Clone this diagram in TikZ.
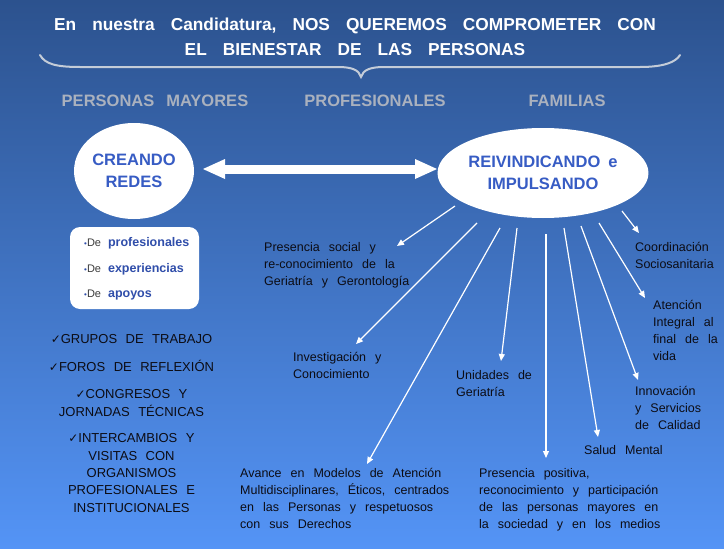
\documentclass[tikz,border=0pt]{standalone}
\usepackage{fontspec}
\setmainfont{Liberation Sans}
\newfontfamily\symfont{DejaVu Sans}
\usetikzlibrary{arrows.meta,shapes.geometric,calc}
\definecolor{bgtop}{RGB}{44,82,142}
\definecolor{bgbot}{RGB}{84,148,246}
\definecolor{ellblue}{RGB}{55,92,196}
\definecolor{boxblue}{RGB}{48,78,170}
\definecolor{subgray}{RGB}{170,177,190}
\definecolor{bracecol}{RGB}{196,204,216}
\definecolor{dkgray}{RGB}{60,60,60}
\definecolor{txtblack}{RGB}{12,12,20}
\newcommand{\boxitem}[1]{{\color{boxblue}\fontsize{8}{25.5}\selectfont •}{\color{dkgray}\fontsize{11}{25.5}\selectfont De}\hspace{7pt}\textcolor{boxblue}{\bfseries #1}}
\newcommand{\chk}{{\symfont\fontsize{12}{17.3}\selectfont ✓}}
\begin{document}
\begin{tikzpicture}[x=1pt,y=-1pt,
  titletext/.style={text=white, align=center, inner sep=0pt, anchor=north,
    font={\bfseries\fontsize{17.3}{24.3}\selectfont\spaceskip=16pt plus 2pt minus 2pt\relax}},
  subhead/.style={text=subgray, inner sep=0pt, anchor=base,
    font={\bfseries\fontsize{16.5}{20}\selectfont\spaceskip=12pt plus 2pt minus 2pt\relax}},
  bubble/.style={ellipse, fill=white, inner sep=0pt, text=ellblue, align=center,
    font={\bfseries\fontsize{16.5}{21.5}\selectfont\spaceskip=8pt plus 2pt minus 1pt\relax}},
  panel/.style={rectangle, rounded corners=10pt, fill=white, inner sep=0pt,
    minimum width=129pt, minimum height=82pt},
  chklist/.style={text=txtblack, align=center, inner sep=0pt, anchor=north,
    font={\fontsize{13}{17.3}\selectfont\spaceskip=8.5pt plus 2pt minus 1pt\relax}},
  body/.style={text=txtblack, align=left, inner sep=0pt, anchor=north west,
    font={\fontsize{12.5}{17}\selectfont\spaceskip=9pt plus 2pt minus 1pt\relax}},
  conn/.style={white, line width=1.2pt, -{Triangle[length=7pt,width=6pt]}},
  bigarrow/.style={white, line width=9pt,
    {Triangle[length=22pt,width=20pt,line width=0pt]}-{Triangle[length=22pt,width=20pt,line width=0pt]}}
]
\useasboundingbox (0,0) rectangle (724,549);
\shade[top color=bgtop, bottom color=bgbot] (0,0) rectangle (724,549);

% title and brace
\node[titletext] (title) at (355,13.7) {\strut En nuestra Candidatura, NOS QUEREMOS COMPROMETER CON\\EL BIENESTAR DE LAS PERSONAS};
\draw[bracecol, line width=2pt, line cap=round]
  (40,55) .. controls (45,64) and (56,67) .. (80,67) -- (338,67)
  .. controls (352,67) and (359,70) .. (361,77)
  .. controls (363,70) and (370,67) .. (384,67) -- (640,67)
  .. controls (664,67) and (676,62) .. (680,55);

% subheaders
\node[subhead] (mayores) at (155,106) {PERSONAS MAYORES};
\node[subhead] (prof) at (375,106) {PROFESIONALES};
\node[subhead] (fam) at (567,106) {FAMILIAS};

% ellipses
\node[bubble, minimum width=120pt, minimum height=96pt] (creando) at (134,171) {CREANDO\\REDES};
\node[bubble, minimum width=207pt, minimum height=90pt] (reiv) at (543,173) {REIVINDICANDO e\\IMPULSANDO};
\draw[bigarrow] ($(creando.center)+(69,-2)$) -- ($(reiv.center)+(-106,-4)$);

% white panel
\node[panel] (panel) at (134.5,268) {};
\node[inner sep=0pt, anchor=north west, align=left, font={\fontsize{12.5}{25.5}\selectfont}] (redes) at (84,228.6)
  {\strut\boxitem{profesionales}\\\boxitem{experiencias}\\\boxitem{apoyos}};

% checklist
\node[chklist] (g1) at (131.5,331.5) {\strut\chk GRUPOS DE TRABAJO};
\node[chklist] (g2) at (131.5,359.5) {\strut\chk FOROS DE REFLEXIÓN};
\node[chklist] (g3) at (131.5,386.5) {\strut\chk CONGRESOS Y\\JORNADAS TÉCNICAS};
\node[chklist] (g4) at (131.5,430.5) {\strut\chk INTERCAMBIOS Y\\VISITAS CON\\ORGANISMOS\\PROFESIONALES E\\INSTITUCIONALES};

% right text blocks
\node[body] (soc) at (264,239.6) {\strut Presencia social y\\re-conocimiento de la\\Geriatría y Gerontología};
\node[body] (inv) at (293,349.6) {\strut Investigación y\\Conocimiento};
\node[body] (uni) at (456,367.6) {\strut Unidades de\\Geriatría};
\node[body] (ava) at (240,465.6) {\strut Avance en Modelos de Atención\\Multidisciplinares, Éticos, centrados\\en las Personas y respetuosos\\con sus Derechos};
\node[body] (pre) at (479,465.6) {\strut Presencia positiva,\\reconocimiento y participación\\de las personas mayores en\\la sociedad y en los medios};
\node[body] (sal) at (584,442.6) {\strut Salud Mental};
\node[body] (inn) at (635,383.6) {\strut Innovación\\y Servicios\\de Calidad};
\node[body] (ate) at (653,297.6) {\strut Atención\\Integral al\\final de la\\vida};
\node[body] (coo) at (635,239.6) {\strut Coordinación\\Sociosanitaria};

% arrow targets
\coordinate (t1) at (397,246);
\coordinate (t2) at (356,344);
\coordinate (t3) at (367,464);
\coordinate (t4) at (501,361);
\coordinate (t5) at (546,458);
\coordinate (t6) at (598,437);
\coordinate (t7) at (638,380);
\coordinate (t8) at (645,298);
\coordinate (t9) at (639,233);

\draw[conn] ($(reiv.center)+(-88,33)$) -- (t1);
\draw[conn] ($(reiv.center)+(-66,50)$) -- (t2);
\draw[conn] ($(reiv.center)+(-43,55)$) -- (t3);
\draw[conn] ($(reiv.center)+(-26,55)$) -- (t4);
\draw[conn] ($(reiv.center)+(3,61)$) -- (t5);
\draw[conn] ($(reiv.center)+(21,55)$) -- (t6);
\draw[conn] ($(reiv.center)+(38,53)$) -- (t7);
\draw[conn] ($(reiv.center)+(56,50)$) -- (t8);
\draw[conn] ($(reiv.center)+(79,38)$) -- (t9);
\end{tikzpicture}
\end{document}
